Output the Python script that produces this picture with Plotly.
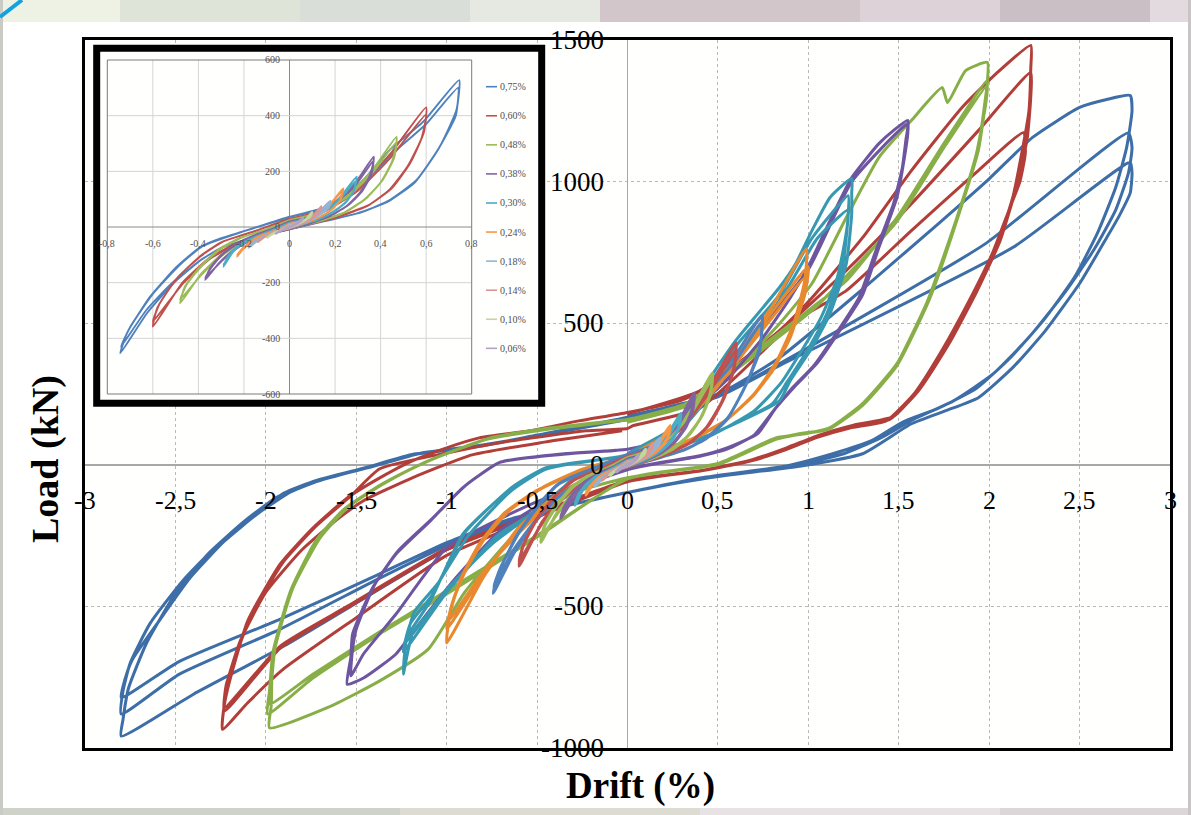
import plotly.graph_objects as go

W, H = 1191, 815

# ---------------- data: (drift %, load kN) points along each loading history ----------------
loop_280 = [
    (0, 172), (0.5, 250), (0.84, 378), (1.3, 620), (1.72, 852), (2.0, 1010), (2.24, 1156), (2.5, 1262), (2.65, 1290), (2.78, 1304),
    (2.79, 1250), (2.76, 1120), (2.70, 980), (2.60, 820), (2.47, 660), (2.30, 510), (2.12, 380), (1.93, 270), (1.72, 200), (1.52, 150),
    (1.35, 85), (1.13, 38), (0.88, -4), (0.41, -46), (0.0, -98),
    (-0.34, -145), (-0.64, -200), (-1.0, -300), (-1.4, -450), (-1.9, -640), (-2.4, -810), (-2.8, -958),
    (-2.79, -900), (-2.76, -790), (-2.66, -630), (-2.50, -455), (-2.32, -315), (-2.12, -200), (-1.94, -115), (-1.75, -65),
    (-1.47, -15), (-1.19, 35), (-0.82, 65), (-0.5, 105), (0.0, 168),
    (0.5, 245), (0.84, 357), (1.98, 781), (2.77, 1172),
    (2.79, 1120), (2.77, 1030), (2.70, 900), (2.58, 760), (2.42, 610), (2.22, 450), (2.02, 320), (1.80, 225), (1.58, 160), (1.40, 95),
    (1.20, 40), (0.92, -2), (0.45, -45), (0.0, -98),
    (-0.34, -145), (-0.64, -195), (-1.0, -285), (-1.37, -400), (-1.92, -580), (-2.48, -740), (-2.80, -880),
    (-2.79, -800), (-2.75, -700), (-2.64, -560), (-2.46, -410), (-2.27, -285), (-2.08, -185), (-1.90, -100), (-1.72, -55),
    (-1.45, -10), (-1.18, 38), (-0.82, 66), (-0.5, 104), (0.0, 164),
    (0.5, 240), (0.84, 350), (2.13, 767), (2.78, 1068),
    (2.79, 1030), (2.78, 960), (2.72, 880), (2.65, 802), (2.50, 640), (2.31, 473), (2.13, 343), (1.94, 237), (1.76, 191), (1.57, 145),
    (1.30, 39), (0.96, -4), (0.46, -45), (0.0, -98),
    (-0.34, -145), (-0.64, -190), (-1.0, -275), (-1.37, -385), (-1.92, -545), (-2.48, -695), (-2.80, -822),
    (-2.78, -760), (-2.74, -690), (-2.60, -560), (-2.42, -400), (-2.23, -270), (-2.04, -170), (-1.86, -95), (-1.68, -50),
    (-1.42, -8), (-1.15, 40), (-0.82, 68), (-0.5, 102), (0.0, 160),
]

loop_220 = [
    (0, 180), (0.4, 261), (0.84, 474), (1.02, 590), (1.30, 802), (1.57, 1039), (1.85, 1262), (2.04, 1382), (2.23, 1481),
    (2.23, 1400), (2.22, 1250), (2.18, 1100), (2.13, 943), (2.04, 767), (1.91, 590), (1.76, 413), (1.61, 262), (1.45, 160),
    (1.25, 135), (1.06, 100), (0.88, 55), (0.69, 15), (0.41, -21), (0, -60),
    (-0.5, -185), (-1.0, -320), (-1.5, -540), (-1.9, -720), (-2.1, -840), (-2.24, -934),
    (-2.23, -850), (-2.20, -763), (-2.10, -551), (-1.92, -350), (-1.74, -223), (-1.55, -117), (-1.37, -46), (-1.19, 14),
    (-1.0, 60), (-0.82, 95), (-0.54, 120), (-0.27, 155), (0, 185),
    (0.29, 226), (0.40, 261), (0.84, 470), (1.21, 686), (1.57, 922), (1.94, 1180), (2.23, 1385),
    (2.23, 1300), (2.21, 1150), (2.15, 980), (2.06, 790), (1.93, 610), (1.78, 430), (1.63, 280), (1.47, 170), (1.25, 140),
    (1.06, 105), (0.88, 60), (0.69, 18), (0.41, -20), (0, -55),
    (-0.5, -175), (-1.0, -300), (-1.55, -505), (-1.92, -647), (-2.23, -870),
    (-2.22, -780), (-2.18, -700), (-2.08, -530), (-1.90, -340), (-1.72, -215), (-1.53, -110), (-1.37, -14), (-1.0, 42),
    (-0.64, 85), (-0.23, 120), (0, 128),
    (0.03, 138), (0.4, 200), (0.93, 509), (1.21, 615), (1.57, 827), (1.94, 1039), (2.19, 1173),
    (2.20, 1100), (2.17, 1000), (2.11, 900), (2.02, 750), (1.89, 580), (1.74, 405), (1.59, 255), (1.43, 155), (1.23, 130),
    (1.04, 95), (0.86, 50), (0.69, 15), (0.41, -20), (0, -55),
    (-0.5, -170), (-1.0, -295), (-1.55, -500), (-1.92, -640), (-2.23, -858),
    (-2.21, -760), (-2.14, -620), (-2.0, -450), (-1.8, -300), (-1.6, -190), (-1.46, -127), (-1.19, -46), (-0.86, 35),
    (-0.46, 80), (-0.03, 120),
]

loop_200 = [
    (0, 150), (0.32, 205), (0.5, 275), (0.84, 498), (1.02, 640), (1.21, 873), (1.39, 1085), (1.57, 1216), (1.74, 1332),
    (1.77, 1279), (1.87, 1392), (1.99, 1421),
    (1.99, 1350), (1.98, 1297), (1.94, 1120), (1.83, 887), (1.67, 590), (1.49, 357), (1.30, 216), (1.12, 131), (0.99, 110),
    (0.82, 95), (0.51, 7), (0, -46),
    (-0.3, -100), (-0.6, -230), (-0.9, -450), (-1.1, -650), (-1.37, -763), (-1.65, -855), (-1.98, -929),
    (-1.97, -850), (-1.96, -668), (-1.85, -435), (-1.70, -258), (-1.55, -152), (-1.37, -75), (-1.25, -32), (-1.06, 25),
    (-0.76, 95), (-0.46, 127), (-0.07, 155), (0, 160),
    (0.32, 215), (0.5, 300), (1.02, 555), (1.21, 650), (1.49, 873), (1.76, 1145), (1.99, 1357),
    (1.98, 1280), (1.94, 1110), (1.83, 880), (1.67, 585), (1.49, 350), (1.30, 210), (1.12, 128), (0.95, 110), (0.82, 92),
    (0.51, 5), (0, -48),
    (-0.5, -255), (-1.0, -456), (-1.37, -597), (-1.74, -753), (-1.99, -880),
    (-1.98, -800), (-1.96, -660), (-1.86, -440), (-1.72, -265), (-1.57, -158), (-1.39, -80), (-1.27, -38), (-1.08, 20),
    (-0.78, 90), (-0.48, 122), (0, 160),
    (0.3, 205), (0.5, 290), (1.02, 545), (1.49, 860), (1.76, 1130), (1.99, 1340),
    (1.98, 1270), (1.93, 1100), (1.82, 870), (1.66, 580), (1.48, 345), (1.29, 205), (1.11, 125), (0.95, 108), (0.82, 90),
    (0.51, 3), (0, -50),
    (-0.5, -250), (-1.0, -445), (-1.37, -590), (-1.74, -740), (-1.98, -845),
    (-1.97, -780), (-1.95, -650), (-1.85, -430), (-1.71, -260), (-1.56, -155), (-1.38, -78), (-1.26, -35), (-1.07, 22),
    (-0.77, 92), (-0.47, 125), (0, 158),
]

loop_155 = [
    (0, 55), (0.18, 85), (0.34, 201), (0.44, 237), (0.56, 307), (0.75, 450), (0.9, 590), (1.0, 700), (1.12, 862),
    (1.24, 1014), (1.39, 1134), (1.47, 1180), (1.55, 1216),
    (1.55, 1170), (1.54, 1120), (1.49, 944), (1.39, 767), (1.30, 600), (1.17, 470), (1.05, 360), (0.93, 280), (0.82, 200),
    (0.72, 110), (0.55, 60), (0.40, 32), (0.03, -10),
    (-0.4, -110), (-0.7, -230), (-0.95, -400), (-1.15, -560), (-1.28, -668), (-1.46, -753), (-1.55, -775),
    (-1.53, -680), (-1.52, -597), (-1.41, -435), (-1.28, -315), (-1.09, -198), (-0.91, -81), (-0.71, 8), (-0.34, 38), (0, 55),
    (0.18, 85), (0.34, 195), (0.6, 380), (1.0, 690), (1.24, 1000), (1.55, 1205),
    (1.54, 1150), (1.52, 1050), (1.47, 920), (1.37, 750), (1.28, 590), (1.15, 460), (1.03, 350), (0.91, 270), (0.80, 185),
    (0.70, 105), (0.55, 55), (0.40, 30), (0.03, -12),
    (-0.5, -130), (-1.0, -293), (-1.28, -527), (-1.46, -668), (-1.53, -745),
    (-1.52, -650), (-1.50, -580), (-1.40, -425), (-1.27, -305), (-1.08, -190), (-0.90, -75), (-0.70, 10), (-0.34, 40), (0, 55),
]

loop_125 = [
    (0, 40), (0.3, 150), (0.45, 300), (0.6, 440), (0.84, 626), (0.93, 710), (1.02, 827), (1.12, 944), (1.24, 1011),
    (1.24, 960), (1.24, 887), (1.21, 710), (1.12, 534), (1.02, 413), (0.90, 297), (0.84, 226), (0.47, 110), (0.10, 39), (-0.27, -32),
    (-0.45, -140), (-0.72, -250), (-1.0, -445), (-1.09, -516), (-1.19, -597), (-1.24, -739),
    (-1.22, -611), (-1.09, -481), (-0.91, -244), (-0.64, -81), (-0.45, -11), (-0.08, 25), (0, 35),
    (0.3, 140), (0.45, 280), (0.6, 420), (0.84, 600), (1.02, 800), (1.22, 950),
    (1.22, 880), (1.19, 700), (1.10, 530), (1.00, 410), (0.88, 290), (0.80, 215), (0.45, 105), (0.10, 35), (-0.27, -35),
    (-0.45, -145), (-0.72, -255), (-1.0, -450), (-1.24, -660),
    (-1.20, -560), (-1.08, -460), (-0.9, -240), (-0.64, -80), (-0.45, -10), (0, 35),
    (0.3, 130), (0.5, 280), (0.7, 450), (0.9, 640), (1.05, 800), (1.22, 900),
    (1.21, 820), (1.16, 660), (1.07, 520), (0.96, 400), (0.85, 290), (0.7, 190), (0.45, 100), (0.1, 30), (-0.27, -38),
    (-0.5, -160), (-0.75, -280), (-1.0, -440), (-1.22, -620),
    (-1.18, -520), (-1.05, -420), (-0.88, -250), (-0.64, -90), (-0.45, -15), (0, 30),
]

loop_100 = [
    (0, 30), (0.25, 120), (0.45, 260), (0.6, 380), (0.8, 560), (0.99, 763),
    (0.98, 650), (0.92, 500), (0.82, 360), (0.70, 250), (0.55, 160), (0.35, 90), (0.1, 30), (-0.2, -40),
    (-0.4, -110), (-0.6, -220), (-0.8, -400), (-1.0, -629),
    (-0.98, -520), (-0.92, -400), (-0.82, -280), (-0.68, -170), (-0.5, -90), (-0.25, -20), (0, 30),
    (0.25, 115), (0.45, 250), (0.6, 370), (0.8, 540), (1.0, 700),
    (0.98, 600), (0.91, 470), (0.81, 340), (0.69, 240), (0.54, 155), (0.34, 85), (0.1, 28), (-0.2, -42),
    (-0.4, -115), (-0.6, -230), (-0.8, -390), (-1.0, -580),
    (-0.97, -490), (-0.9, -380), (-0.8, -270), (-0.66, -165), (-0.48, -85), (-0.25, -18), (0, 30),
    (0.25, 110), (0.45, 240), (0.6, 360), (0.8, 520), (0.98, 660),
    (0.96, 570), (0.9, 450), (0.8, 330), (0.68, 235), (0.53, 150), (0.33, 80), (0.1, 25), (-0.2, -45),
    (-0.4, -120), (-0.6, -240), (-0.8, -380), (-0.99, -550),
    (-0.96, -470), (-0.89, -365), (-0.79, -260), (-0.65, -160), (-0.47, -80), (-0.25, -15), (0, 28),
]

loop_075 = [
    (0, 37), (0.075, 49), (0.207, 85), (0.324, 169), (0.44, 277), (0.587, 378), (0.745, 528),
    (0.733, 420), (0.66, 289), (0.558, 169), (0.44, 97), (0.324, 55), (0.178, 25), (0, -5), (-0.144, -35), (-0.29, -71),
    (-0.39, -119), (-0.51, -202), (-0.626, -310), (-0.743, -454),
    (-0.714, -382), (-0.612, -250), (-0.495, -143), (-0.39, -71), (-0.3, -40), (-0.2, -15), (0, 37),
    (0.2, 80), (0.33, 160), (0.45, 262), (0.6, 370), (0.74, 500),
    (0.73, 400), (0.65, 275), (0.55, 160), (0.43, 90), (0.3, 50), (0.15, 20), (0, -8), (-0.15, -38), (-0.3, -75),
    (-0.4, -125), (-0.52, -205), (-0.63, -300), (-0.74, -430),
    (-0.7, -360), (-0.6, -240), (-0.48, -135), (-0.38, -68), (-0.2, -15), (0, 35),
]

loop_060 = [
    (0, 30), (0.15, 60), (0.3, 140), (0.45, 270), (0.6, 430),
    (0.59, 340), (0.53, 230), (0.45, 140), (0.35, 80), (0.2, 35), (0, -5), (-0.15, -35), (-0.25, -65),
    (-0.35, -110), (-0.47, -200), (-0.6, -358),
    (-0.58, -290), (-0.5, -190), (-0.4, -110), (-0.3, -55), (-0.15, -15), (0, 30),
    (0.15, 55), (0.3, 130), (0.45, 255), (0.6, 405),
    (0.58, 320), (0.52, 220), (0.44, 135), (0.34, 75), (0.2, 33), (0, -8), (-0.15, -38), (-0.25, -68),
    (-0.35, -115), (-0.47, -205), (-0.6, -340),
    (-0.57, -275), (-0.49, -180), (-0.39, -105), (-0.29, -52), (-0.15, -14), (0, 28),
]

loop_048 = [
    (0, 25), (0.12, 50), (0.25, 110), (0.36, 200), (0.47, 324),
    (0.46, 250), (0.41, 170), (0.34, 105), (0.25, 55), (0.12, 20), (0, -5), (-0.12, -30), (-0.22, -60),
    (-0.3, -100), (-0.39, -170), (-0.48, -274),
    (-0.46, -215), (-0.39, -140), (-0.31, -80), (-0.22, -40), (-0.1, -8), (0, 25),
    (0.12, 48), (0.25, 105), (0.36, 190), (0.47, 305),
    (0.45, 235), (0.40, 160), (0.33, 100), (0.24, 52), (0.12, 18), (0, -6), (-0.12, -32), (-0.22, -62),
    (-0.3, -105), (-0.39, -175), (-0.48, -260),
    (-0.45, -205), (-0.38, -135), (-0.3, -78), (-0.21, -38), (-0.1, -8), (0, 24),
]

loop_038 = [
    (0, 20), (0.1, 40), (0.2, 90), (0.29, 160), (0.37, 253),
    (0.36, 190), (0.32, 130), (0.26, 80), (0.18, 40), (0.08, 12), (0, -5), (-0.1, -25), (-0.18, -50),
    (-0.25, -85), (-0.31, -130), (-0.37, -190),
    (-0.35, -150), (-0.3, -100), (-0.23, -58), (-0.15, -28), (-0.07, -5), (0, 20),
    (0.1, 38), (0.2, 85), (0.29, 150), (0.37, 240),
    (0.35, 180), (0.31, 125), (0.25, 75), (0.17, 38), (0.08, 10), (0, -6), (-0.1, -27), (-0.18, -52),
    (-0.25, -88), (-0.31, -132), (-0.37, -182),
    (-0.34, -142), (-0.29, -96), (-0.22, -56), (-0.14, -26), (-0.07, -5), (0, 19),
]

loop_030 = [
    (0, 15), (0.1, 35), (0.2, 85), (0.295, 181),
    (0.285, 135), (0.25, 90), (0.19, 52), (0.12, 25), (0.05, 8), (0, -3), (-0.1, -22), (-0.18, -45),
    (-0.24, -80), (-0.29, -143),
    (-0.27, -105), (-0.22, -65), (-0.15, -35), (-0.07, -10), (0, 15),
    (0.1, 33), (0.2, 80), (0.29, 165),
    (0.28, 125), (0.24, 85), (0.18, 50), (0.11, 23), (0.05, 7), (0, -4), (-0.1, -24), (-0.18, -47),
    (-0.24, -82), (-0.29, -135),
    (-0.26, -98), (-0.21, -62), (-0.14, -33), (-0.07, -9), (0, 14),
]

loop_024 = [
    (0, 12), (0.08, 28), (0.16, 65), (0.236, 139),
    (0.225, 100), (0.19, 65), (0.14, 38), (0.08, 18), (0, -3), (-0.08, -18), (-0.15, -40),
    (-0.19, -65), (-0.23, -107),
    (-0.21, -80), (-0.16, -50), (-0.1, -25), (-0.04, -5), (0, 12),
    (0.08, 26), (0.16, 62), (0.23, 128),
    (0.22, 92), (0.18, 60), (0.13, 35), (0.07, 15), (0, -4), (-0.08, -20), (-0.15, -42),
    (-0.19, -68), (-0.23, -100),
    (-0.2, -72), (-0.15, -46), (-0.09, -22), (-0.04, -4), (0, 11),
]

loop_018 = [
    (0, 10), (0.06, 22), (0.12, 48), (0.18, 95), (0.17, 68), (0.13, 42), (0.08, 20), (0, -3), (-0.08, -20), (-0.13, -42),
    (-0.18, -75), (-0.16, -55), (-0.11, -32), (-0.05, -10), (0, 8), (0.06, 20), (0.12, 45), (0.18, 88), (0.16, 62),
    (0.12, 38), (0.07, 17), (0, -4), (-0.08, -22), (-0.13, -44), (-0.18, -70), (-0.15, -50), (-0.1, -28), (-0.04, -8), (0, 8),
]

loop_014 = [
    (0, 8), (0.05, 18), (0.1, 38), (0.14, 75), (0.13, 52), (0.1, 32), (0.06, 15), (0, -2), (-0.06, -15), (-0.1, -30),
    (-0.14, -55), (-0.12, -40), (-0.08, -24), (-0.04, -8), (0, 7), (0.05, 17), (0.1, 36), (0.14, 70), (0.12, 48),
    (0.09, 29), (0.05, 13), (0, -3), (-0.06, -16), (-0.1, -32), (-0.14, -52), (-0.11, -36), (-0.07, -20), (-0.03, -6), (0, 6),
]

loop_010 = [
    (0, 6), (0.04, 14), (0.07, 28), (0.1, 55), (0.09, 38), (0.07, 24), (0.04, 11), (0, -2), (-0.04, -11), (-0.07, -22),
    (-0.1, -40), (-0.08, -28), (-0.05, -16), (-0.02, -5), (0, 5), (0.04, 13), (0.07, 26), (0.1, 50), (0.09, 35),
    (0.06, 21), (0.03, 9), (0, -2), (-0.04, -12), (-0.07, -24), (-0.1, -37), (-0.08, -26), (-0.05, -14), (-0.02, -4), (0, 5),
]

loop_006 = [
    (0, 4), (0.03, 12), (0.06, 35), (0.05, 22), (0.03, 12), (0, -1), (-0.03, -9), (-0.06, -25), (-0.04, -15), (-0.02, -6),
    (0, 4), (0.03, 11), (0.06, 32), (0.05, 20), (0.03, 10), (0, -2), (-0.03, -10), (-0.06, -23), (-0.04, -13), (-0.02, -5), (0, 3),
]

main_levels = [
    ("2,80%", loop_280, "#3d6ea8"),
    ("2,20%", loop_220, "#b23e3a"),
    ("2,00%", loop_200, "#88ae48"),
    ("1,55%", loop_155, "#6e55a0"),
    ("1,25%", loop_125, "#3798b2"),
    ("1,00%", loop_100, "#e8892f"),
]
small_levels = [
    ("0,75%", loop_075, "#4F81BD"),
    ("0,60%", loop_060, "#C0504D"),
    ("0,48%", loop_048, "#9BBB59"),
    ("0,38%", loop_038, "#8064A2"),
    ("0,30%", loop_030, "#4BACC6"),
    ("0,24%", loop_024, "#F79646"),
    ("0,18%", loop_018, "#95B3D7"),
    ("0,14%", loop_014, "#D99694"),
    ("0,10%", loop_010, "#C3D69B"),
    ("0,06%", loop_006, "#B3A2C7"),
]

x_ticks = [-3, -2.5, -2, -1.5, -1, -0.5, 0, 0.5, 1, 1.5, 2, 2.5, 3]
y_ticks = [-1000, -500, 0, 500, 1000, 1500]
inset_x_ticks = [-0.8, -0.6, -0.4, -0.2, 0, 0.2, 0.4, 0.6, 0.8]
inset_y_ticks = [-600, -400, -200, 0, 200, 400, 600]


def fmt(v):
    return ("%g" % v).replace(".", ",")


def px(xp):
    return xp / W


def py(yp):
    return 1 - yp / H


fig = go.Figure()

# main chart traces: largest first, smallest drawn on top
for name, loop, color in main_levels + small_levels:
    fig.add_trace(go.Scatter(
        x=[p[0] for p in loop], y=[p[1] for p in loop], mode="lines", name=name,
        line=dict(color=color, width=3, shape="spline", smoothing=0.5),
        showlegend=False, hoverinfo="skip", xaxis="x", yaxis="y"))

# inset traces
for name, loop, color in small_levels:
    fig.add_trace(go.Scatter(
        x=[p[0] for p in loop], y=[p[1] for p in loop], mode="lines", name=name,
        line=dict(color=color, width=1.9, shape="spline", smoothing=0.5),
        showlegend=False, hoverinfo="skip", xaxis="x2", yaxis="y2"))

# inset axis geometry (pixels of the reference)
ix0, ix1 = 100, 538
iy0, iy1 = 52, 400
ixz, ixs = 289.5, 227.75
iyz, iys = 227.0, 334 / 1200

shapes = []
annotations = []

# background decorations (photo strip around the slide)
top_cols = [(0, 120, "#eef2e4"), (120, 300, "#dfe4d9"), (300, 470, "#d9ded9"), (470, 600, "#e6e9e2"),
            (600, 860, "#d2c6cb"), (860, 1000, "#ddd2d8"), (1000, 1150, "#c9bfc5"), (1150, 1191, "#e2dade")]
for a, b, c in top_cols:
    shapes.append(dict(type="rect", xref="paper", yref="paper", x0=px(a), x1=px(b), y0=py(22), y1=1,
                       fillcolor=c, line=dict(width=0), layer="below"))
bot_cols = [(0, 400, "#cfd2c8"), (400, 700, "#dcdcd2"), (700, 1000, "#e9e2e5"), (1000, 1191, "#dcd6d8")]
for a, b, c in bot_cols:
    shapes.append(dict(type="rect", xref="paper", yref="paper", x0=px(a), x1=px(b), y0=0, y1=py(808),
                       fillcolor=c, line=dict(width=0), layer="below"))
shapes.append(dict(type="rect", xref="paper", yref="paper", x0=0, x1=px(3), y0=0, y1=1,
                   fillcolor="#c9cbc4", line=dict(width=0), layer="below"))
shapes.append(dict(type="rect", xref="paper", yref="paper", x0=px(1188), x1=1, y0=0, y1=1,
                   fillcolor="#c9c4c6", line=dict(width=0), layer="below"))
shapes.append(dict(type="line", xref="paper", yref="paper", x0=0, y0=py(17), x1=px(22), y1=1,
                   line=dict(color="#12a2e2", width=4), layer="above"))

# inset gridlines, axes and frame
for v in inset_x_ticks[1:-1]:
    shapes.append(dict(type="line", xref="x2", yref="y2", x0=v, x1=v, y0=-600, y1=600,
                       line=dict(color="#d4d4d4" if v != 0 else "#8a8a8a", width=1), layer="below"))
for v in inset_y_ticks[1:-1]:
    shapes.append(dict(type="line", xref="x2", yref="y2", x0=-0.8, x1=0.8, y0=v, y1=v,
                       line=dict(color="#d4d4d4" if v != 0 else "#8a8a8a", width=1), layer="below"))
shapes.append(dict(type="rect", xref="x2", yref="y2", x0=-0.8, x1=0.8, y0=-600, y1=600,
                   line=dict(color="#7a7a7a", width=1), layer="below"))
# inset black border
shapes.append(dict(type="rect", xref="paper", yref="paper", x0=px(96.7), x1=px(541.7), y0=py(403.3), y1=py(48.3),
                   line=dict(color="black", width=7), fillcolor="rgba(0,0,0,0)", layer="above"))

# inset legend (drawn manually)
for i, (name, loop, color) in enumerate(small_levels):
    yl = 86.7 + i * 29.07
    shapes.append(dict(type="line", xref="paper", yref="paper", x0=px(486), x1=px(497), y0=py(yl), y1=py(yl),
                       line=dict(color=color, width=1.6), layer="above"))
    annotations.append(dict(xref="paper", yref="paper", x=px(497.5), y=py(yl), text=name, showarrow=False,
                            xanchor="left", yanchor="middle",
                            font=dict(family="Liberation Serif", size=10, color="#505050")))

# inset tick labels
for v in inset_x_ticks:
    annotations.append(dict(xref="x2", yref="paper", x=v, y=py(243), text=fmt(v), showarrow=False,
                            xanchor="center", yanchor="middle",
                            font=dict(family="Liberation Serif", size=10, color="#505050")))
for v in inset_y_ticks:
    annotations.append(dict(xref="paper", yref="y2", x=px(282), y=v, text=fmt(v), showarrow=False,
                            xanchor="right", yanchor="middle",
                            font=dict(family="Liberation Serif", size=10, color="#505050")))

# main tick labels
for v in x_ticks:
    annotations.append(dict(xref="x", yref="paper", x=v, y=py(500), text=fmt(v), showarrow=False,
                            xanchor="center", yanchor="middle",
                            font=dict(family="Liberation Serif", size=26, color="black")))
for v in y_ticks:
    annotations.append(dict(xref="paper", yref="y", x=px(606), y=v, text=fmt(v), showarrow=False,
                            xanchor="right", yanchor="middle",
                            font=dict(family="Liberation Serif", size=27, color="black")))

# axis titles
annotations.append(dict(xref="paper", yref="paper", x=px(640), y=py(786), text="<b>Drift (%)</b>", showarrow=False,
                        xanchor="center", yanchor="middle",
                        font=dict(family="Liberation Serif", size=37, color="black")))
annotations.append(dict(xref="paper", yref="paper", x=px(45), y=py(459), text="<b>Load (kN)</b>", showarrow=False,
                        xanchor="center", yanchor="middle", textangle=-90,
                        font=dict(family="Liberation Serif", size=38, color="black")))

axis_common = dict(showticklabels=False, ticks="", fixedrange=True)

fig.update_layout(
    width=W, height=H,
    margin=dict(l=0, r=0, t=0, b=0),
    paper_bgcolor="#ffffff",
    plot_bgcolor="#fffffe",
    showlegend=False,
    xaxis=dict(domain=[px(85), px(1170)], range=[-3, 3], dtick=0.5, tick0=0,
               showgrid=True, gridcolor="#b8b8b8", griddash="dot", gridwidth=1,
               zeroline=True, zerolinecolor="#a8a8a8", zerolinewidth=1.5,
               showline=True, mirror=True, linecolor="black", linewidth=3, anchor="y", **axis_common),
    yaxis=dict(domain=[py(748), py(40)], range=[-1000, 1500], dtick=500, tick0=0,
               showgrid=True, gridcolor="#b8b8b8", griddash="dot", gridwidth=1,
               zeroline=True, zerolinecolor="#a8a8a8", zerolinewidth=1.5,
               showline=True, mirror=True, linecolor="black", linewidth=3, anchor="x", **axis_common),
    xaxis2=dict(domain=[px(ix0), px(ix1)],
                range=[(ix0 - ixz) / ixs, (ix1 - ixz) / ixs],
                visible=False, anchor="y2", fixedrange=True),
    yaxis2=dict(domain=[py(iy1), py(iy0)],
                range=[(iyz - iy1) / iys, (iyz - iy0) / iys],
                visible=False, anchor="x2", fixedrange=True),
    shapes=shapes,
    annotations=annotations,
)

fig.write_html(
    "out.html",
    config={"displayModeBar": False, "staticPlot": True},
    post_script="document.body.style.margin='0px';document.body.style.overflow='hidden';",
)
